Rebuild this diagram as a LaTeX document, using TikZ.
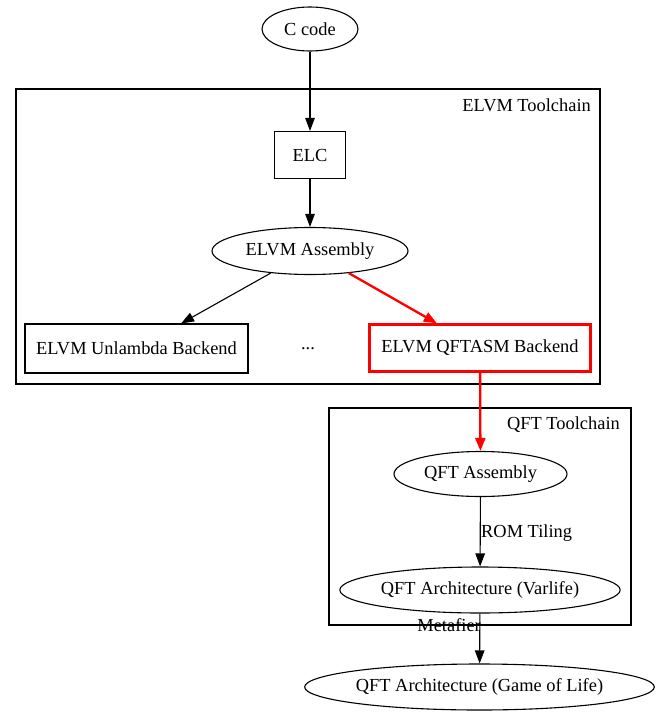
\documentclass[tikz,border=0pt]{standalone}
\usepackage{fontspec}
\setmainfont{Liberation Serif}
\usetikzlibrary{shapes.geometric,arrows.meta}
\begin{document}
\begin{tikzpicture}[x=1pt,y=-1pt,
  every node/.style={font=\fontsize{18.4}{21}\selectfont, inner sep=0pt},
  ell/.style={ellipse, draw, line width=1.1pt},
  box/.style={rectangle, draw, line width=1.1pt},
  redbox/.style={rectangle, draw=red, line width=2.3pt},
  cluster/.style={draw, line width=1.1pt},
  arr/.style={line width=1.1pt, -{Triangle[length=13pt,width=9.5pt]}},
  redarr/.style={draw=red, line width=2.3pt, -{Triangle[length=13pt,width=10pt]}, red},
  lbl/.style={inner sep=0pt}]
\useasboundingbox (0,0) rectangle (659,717);
% clusters
\draw[cluster] (16,89) rectangle (600,384);
\node[lbl, anchor=east] (elvmlbl) at (591,105) {ELVM Toolchain};
\draw[cluster] (329,408) rectangle (631,625);
\node[lbl, anchor=east] (qftlbl) at (620,425) {QFT Toolchain};
% nodes
\node[ell, minimum width=96, minimum height=44] (c) at (310,29) {C code};
\node[box, minimum width=71, minimum height=47] (elc) at (310,155) {ELC};
\node[ell, minimum width=196, minimum height=47] (asm) at (310,251) {ELVM Assembly};
\node[box, minimum width=223, minimum height=49] (unl) at (136.5,348.5) {ELVM Unlambda Backend};
\node[lbl] (dots) at (308,349) {...};
\node[redbox, minimum width=221, minimum height=47] (qftasm) at (480,348) {ELVM QFTASM Backend};
\node[ell, minimum width=173, minimum height=45] (qa) at (480.5,474) {QFT Assembly};
\node[ell, minimum width=280, minimum height=46] (var) at (480,590) {QFT Architecture (Varlife)};
\node[ell, minimum width=347, minimum height=46] (gol) at (479.5,687) {QFT Architecture (Game of Life)};
% edges
\draw[arr] (c) -- (elc);
\draw[arr] (elc) -- (asm);
\draw[arr] (asm) -- (unl);
\draw[redarr] (asm) -- (qftasm);
\draw[redarr] (qftasm) -- (qa);
\draw[arr] (qa) -- (var);
\draw[arr] (var) -- (gol);
\node[lbl, anchor=west] (romlbl) at (481,533) {ROM Tiling};
\node[lbl, anchor=east] (metalbl) at (481,625) {Metafier};
\end{tikzpicture}
\end{document}
